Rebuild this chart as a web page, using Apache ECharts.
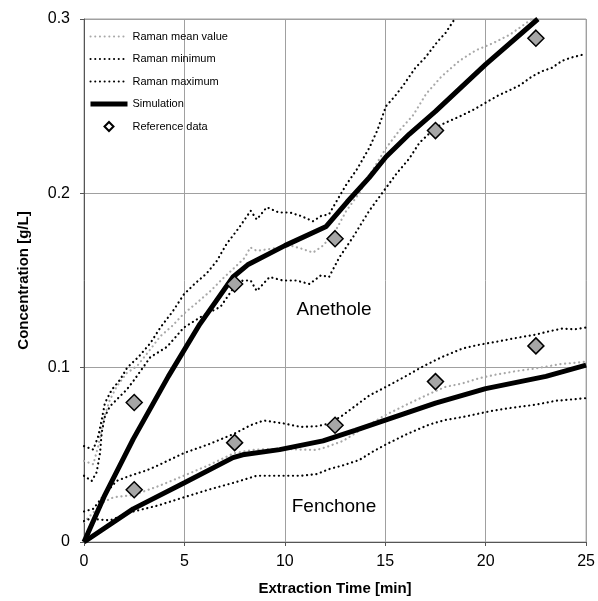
<!DOCTYPE html>
<html>
<head>
<meta charset="utf-8">
<script src="https://cdn.jsdelivr.net/npm/echarts@6/dist/echarts.min.js"></script>
<style>
html,body{margin:0;padding:0;background:#fff;}
#chart{width:598px;height:601px;}
</style>
</head>
<body>
<div id="chart"></div>
<script>
// ---- Data ----
var xTicks = [0, 5, 10, 15, 20, 25];
var yTicks = ['0', '0.1', '0.2', '0.3'];

// Anethole
var aneMaxT = [0,0.46,0.71,0.88,1.04,1.38,1.79,2.15,2.7,3.3,3.8,4.4,4.97,5.5,6.1,6.6,7.1,7.7,8.3,8.6,9.1,9.7,10.25,10.8,11.4,11.8,12.2,12.6,13.06,13.6,14.2,14.6,15.04,15.5,15.9,16.5,17.0,17.6,18.0,18.4];
var aneMaxY = [0.055,0.053,0.0607,0.070,0.0797,0.0873,0.093,0.100,0.106,0.114,0.123,0.132,0.142,0.148,0.154,0.161,0.171,0.180,0.190,0.185,0.192,0.189,0.189,0.187,0.184,0.187,0.188,0.196,0.205,0.214,0.226,0.236,0.250,0.256,0.262,0.272,0.278,0.287,0.292,0.299];

var aneMeanT = [0,0.46,0.71,0.96,1.29,1.62,2.12,2.65,3.2,3.8,4.4,4.97,5.6,6.3,6.9,7.46,8.0,8.28,8.6,9.2,9.74,10.3,10.9,11.4,11.9,12.5,13.06,13.7,14.3,15.04,15.7,16.4,17.03,17.8,18.69,19.5,20.34,21.2,22.3];
var aneMeanY = [0.0465,0.0446,0.055,0.070,0.0816,0.089,0.0968,0.101,0.109,0.118,0.124,0.131,0.137,0.144,0.151,0.157,0.163,0.169,0.167,0.168,0.169,0.170,0.168,0.166,0.170,0.178,0.190,0.200,0.212,0.226,0.236,0.245,0.257,0.267,0.276,0.282,0.286,0.291,0.300];

var aneMinT = [0,0.38,0.63,0.8,0.88,1.04,1.29,1.62,2.12,2.5,3.3,4.14,4.97,5.8,6.8,7.46,7.9,8.3,8.6,9.24,9.9,10.57,11.23,11.8,12.2,12.7,13.4,14.2,14.9,15.54,16.2,16.7,17.53,18.1,18.69,19.4,20.0,20.6,21.17,21.7,22.3,22.8,23.3,23.8,24.3,25];
var aneMinY = [0.038,0.035,0.040,0.0512,0.0626,0.072,0.0778,0.0816,0.0873,0.093,0.106,0.112,0.123,0.129,0.135,0.146,0.150,0.150,0.144,0.152,0.150,0.150,0.148,0.153,0.152,0.163,0.175,0.190,0.201,0.211,0.220,0.229,0.238,0.241,0.244,0.248,0.252,0.256,0.259,0.262,0.267,0.270,0.272,0.276,0.278,0.280];

var aneSimT = [0,1,2.45,4.2,5.77,7.42,8.15,10,12.06,13.1,14.2,15.04,16.2,17.5,20,22.6];
var aneSimY = [0,0.026,0.059,0.095,0.125,0.152,0.159,0.170,0.181,0.195,0.209,0.221,0.234,0.247,0.274,0.300];

var aneRefT = [2.5,7.5,12.5,17.5,22.5];
var aneRefY = [0.080,0.148,0.174,0.236,0.289];

// Fenchone
var fenMaxT = [0,0.46,1.0,1.62,2.29,3.1,3.7,4.97,6.2,7.46,8.3,8.95,9.94,10.8,11.6,12.2,12.8,13.5,14.2,15.04,16,16.86,17.8,18.85,19.6,20.5,21.5,22.5,23.2,23.8,24.4,25];
var fenMaxY = [0.0175,0.019,0.027,0.035,0.038,0.041,0.044,0.051,0.056,0.062,0.067,0.0697,0.068,0.066,0.0664,0.068,0.072,0.078,0.084,0.089,0.095,0.1006,0.106,0.111,0.113,0.1148,0.117,0.119,0.121,0.1224,0.122,0.123];

var fenMeanT = [0,0.96,1.46,2.49,3.7,4.97,6.2,7.46,8.5,9.94,10.8,11.6,12.2,12.9,14.0,15.04,16.1,17.2,18.0,18.85,19.7,20.5,21.5,22.5,23.7,25];
var fenMeanY = [0.0114,0.0228,0.0256,0.027,0.032,0.038,0.044,0.0509,0.053,0.0535,0.053,0.0528,0.055,0.058,0.066,0.073,0.079,0.085,0.089,0.091,0.094,0.096,0.098,0.0996,0.102,0.1034];

var fenMinT = [0,0.3,1.3,2.29,3.7,4.97,6.2,7.46,8.6,9.94,10.8,11.6,12.2,12.9,13.7,14.4,15.04,16.1,17.2,18.0,19.0,20.2,21.3,22.5,23.5,25];
var fenMinY = [0.012,0.0133,0.0124,0.017,0.021,0.0256,0.030,0.034,0.038,0.038,0.038,0.039,0.0418,0.044,0.047,0.052,0.056,0.062,0.0674,0.070,0.072,0.075,0.077,0.0788,0.081,0.0825];

var fenSimT = [0,2.45,5,7.42,7.9,9.74,11.9,13.5,15.04,17.5,20,23,25];
var fenSimY = [0,0.019,0.034,0.0484,0.050,0.053,0.058,0.064,0.070,0.0797,0.088,0.095,0.1015];

var fenRefT = [2.5,7.5,12.5,17.5,22.5];
var fenRefY = [0.030,0.057,0.067,0.092,0.1125];

var labels = ['Anethole', 'Fenchone'];

// ---- Build ----
function pairs(t, y) { return t.map(function (v, i) { return [v, y[i]]; }); }
var FONT = "'Liberation Sans', Arial, sans-serif";
var dotBlack = { color: '#000', width: 2.2, type: [0.1, 4.6], cap: 'round' };
var dotGray = { color: '#a8a8a8', width: 2.2, type: [0.1, 4.6], cap: 'round' };

function dotted(name, t, y, st) {
  return { name: name, type: 'line', data: pairs(t, y), symbol: 'none', lineStyle: st,
    itemStyle: { color: st.color }, z: 2, animation: false, silent: true };
}
function sim(t, y) {
  return { name: 'Simulation', type: 'line', data: pairs(t, y), symbol: 'none',
    lineStyle: { color: '#000', width: 5 }, itemStyle: { color: '#000' }, z: 3, animation: false };
}
function ref(t, y) {
  return { name: 'Reference data', type: 'scatter', data: pairs(t, y), symbol: 'diamond', symbolSize: 16,
    itemStyle: { color: '#a6a6a6', borderColor: '#000', borderWidth: 1.5, opacity: 1 }, z: 4, animation: false };
}
var hideSym = { color: 'rgba(0,0,0,0)', borderWidth: 0, opacity: 0 };

var chart = echarts.init(document.getElementById('chart'), null, { renderer: 'canvas' });
chart.setOption({
  backgroundColor: '#fff',
  animation: false,
  grid: { left: 84, right: 11, top: 19, bottom: 54, show: true, borderColor: '#a0a0a0', borderWidth: 1, backgroundColor: 'transparent' },
  legend: {
    orient: 'vertical', left: 88, top: 31, padding: 0, itemWidth: 37, itemHeight: 9, itemGap: 11.5,
    textStyle: { fontFamily: FONT, fontSize: 11, color: '#000' },
    data: [
      { name: 'Raman mean value', itemStyle: hideSym },
      { name: 'Raman minimum', itemStyle: hideSym },
      { name: 'Raman maximum', itemStyle: hideSym },
      { name: 'Simulation', itemStyle: hideSym, lineStyle: { width: 5 } },
      { name: 'Reference data', icon: 'path://M0,-1L1,0L0,1L-1,0Z', itemStyle: { color: '#fff', borderColor: '#000', borderWidth: 2 } }
    ],
    selectedMode: false
  },
  xAxis: {
    type: 'value', min: 0, max: 25, interval: 5,
    name: 'Extraction Time [min]', nameLocation: 'middle', nameGap: 39,
    nameTextStyle: { fontFamily: FONT, fontSize: 15, fontWeight: 'bold', color: '#000' },
    axisLine: { show: true, lineStyle: { color: '#555', width: 1 } },
    axisTick: { show: true, length: 4, lineStyle: { color: '#555' } },
    axisLabel: { margin: 12, fontFamily: FONT, fontSize: 16, color: '#000',
      formatter: function (v) { return String(xTicks[Math.round(v / 5)]); } },
    splitLine: { show: true, lineStyle: { color: '#a0a0a0', width: 1 } }
  },
  yAxis: {
    type: 'value', min: 0, max: 0.3, interval: 0.1,
    name: 'Concentration [g/L]', nameLocation: 'middle', nameGap: 53,
    nameTextStyle: { fontFamily: FONT, fontSize: 15, fontWeight: 'bold', color: '#000' },
    axisLine: { show: true, lineStyle: { color: '#555', width: 1 } },
    axisTick: { show: true, length: 4, lineStyle: { color: '#555' } },
    axisLabel: { margin: 14, fontFamily: FONT, fontSize: 16, color: '#000',
      formatter: function (v) { return yTicks[Math.round(v * 10)]; } },
    splitLine: { show: true, lineStyle: { color: '#a0a0a0', width: 1 } }
  },
  graphic: [
    { type: 'text', x: 334, y: 310, style: { text: labels[0], font: "19px " + FONT, fill: '#000', align: 'center', verticalAlign: 'middle', textAlign: 'center', textVerticalAlign: 'middle' } },
    { type: 'text', x: 334, y: 507, style: { text: labels[1], font: "19px " + FONT, fill: '#000', align: 'center', verticalAlign: 'middle', textAlign: 'center', textVerticalAlign: 'middle' } }
  ],
  series: [
    dotted('Raman mean value', aneMeanT, aneMeanY, dotGray),
    dotted('Raman minimum', aneMinT, aneMinY, dotBlack),
    dotted('Raman maximum', aneMaxT, aneMaxY, dotBlack),
    dotted('Raman mean value', fenMeanT, fenMeanY, dotGray),
    dotted('Raman minimum', fenMinT, fenMinY, dotBlack),
    dotted('Raman maximum', fenMaxT, fenMaxY, dotBlack),
    sim(aneSimT, aneSimY),
    sim(fenSimT, fenSimY),
    ref(aneRefT, aneRefY),
    ref(fenRefT, fenRefY)
  ]
});
</script>
</body>
</html>
